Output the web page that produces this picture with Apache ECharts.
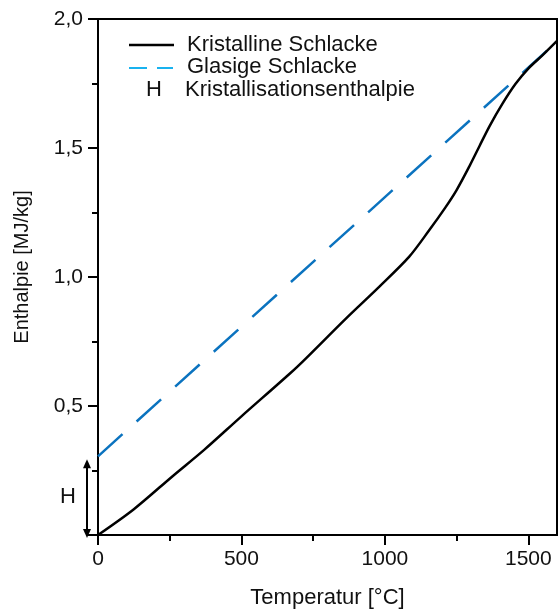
<!DOCTYPE html>
<html>
<head>
<meta charset="utf-8">
<title>Enthalpie</title>
<script src="https://cdn.jsdelivr.net/npm/echarts@6/dist/echarts.min.js"></script>
<style>
  html, body { margin: 0; padding: 0; background: #fff; }
  #chart { width: 558px; height: 614px; }
</style>
</head>
<body>
<div id="chart"></div>
<script>
// Werte
const kristallinT = [0, 125, 260, 370, 500, 670, 725, 865, 980, 1085, 1155, 1210, 1250, 1295, 1330, 1365, 1410, 1455, 1500, 1550, 1600];
const kristallinH = [0, 0.1, 0.228, 0.33, 0.46, 0.627, 0.685, 0.84, 0.962, 1.079, 1.182, 1.268, 1.337, 1.43, 1.508, 1.585, 1.672, 1.748, 1.808, 1.86, 1.915];
const glasigT = [0, 1600];
const glasigH = [0.305, 1.912];
const xTicks = [0, 500, 1000, 1500];
const xMinorTicks = [250, 750, 1250];
const yLabels = [0.5, 1, 1.5, 2];

const FONT = 'Liberation Sans, Arial, sans-serif';

let chart = echarts.init(document.getElementById('chart'));

// Kristallisationsenthalpie: Abstand der beiden Kurven bei T = 0
const hDelta = [[glasigT[0], kristallinH[0], glasigH[0]]];

chart.setOption({
    animation: false,
    grid: {
        left: 98, right: 1, top: 19, bottom: 79,
        show: true, borderColor: '#000', borderWidth: 2
    },
    xAxis: [
        {
            type: 'value', min: 0, max: 1600, interval: 500,
            name: 'Temperatur [°C]', nameLocation: 'middle', nameGap: 52,
            nameTextStyle: {fontFamily: FONT, fontSize: 22, color: '#111'},
            axisLine: {lineStyle: {color: '#000', width: 2}},
            axisTick: {show: true, length: 10, lineStyle: {color: '#000', width: 2}, customValues: xTicks},
            axisLabel: {fontFamily: FONT, fontSize: 21, color: '#111', margin: 14, customValues: xTicks, formatter: v => String(v)},
            splitLine: {show: false}
        },
        {
            // nur Zwischenstriche
            type: 'value', min: 0, max: 1600, position: 'bottom',
            axisLine: {show: false},
            axisTick: {show: true, length: 6, lineStyle: {color: '#000', width: 2}, customValues: xMinorTicks},
            axisLabel: {show: false},
            splitLine: {show: false}
        }
    ],
    yAxis: {
        type: 'value', min: 0, max: 2, interval: 0.5,
        name: 'Enthalpie [MJ/kg]', nameLocation: 'middle', nameGap: 66,
        nameTextStyle: {fontFamily: FONT, fontSize: 20, color: '#111', padding: [0, 0, 0, 20]},
        axisLine: {lineStyle: {color: '#000', width: 2}},
        axisTick: {length: 10, lineStyle: {color: '#000', width: 2}},
        minorTick: {show: true, splitNumber: 2, length: 6, lineStyle: {color: '#000', width: 2}},
        axisLabel: {
            fontFamily: FONT, fontSize: 21, color: '#111', margin: 15,
            customValues: yLabels,
            formatter: v => v.toFixed(1).replace('.', ',')
        },
        splitLine: {show: false}
    },
    graphic: [
        {type: 'line', shape: {x1: 129, y1: 45, x2: 174, y2: 45}, style: {stroke: '#000', lineWidth: 2.5}},
        {type: 'text', left: 187, top: 34, style: {text: 'Kristalline Schlacke', font: '22px ' + FONT, fill: '#111'}},
        {type: 'line', shape: {x1: 129, y1: 68, x2: 147, y2: 68}, style: {stroke: '#19b2ef', lineWidth: 2}},
        {type: 'line', shape: {x1: 157, y1: 68, x2: 173, y2: 68}, style: {stroke: '#19b2ef', lineWidth: 2}},
        {type: 'text', left: 187, top: 56, style: {text: 'Glasige Schlacke', font: '22px ' + FONT, fill: '#111'}},
        {type: 'text', left: 146, top: 79, style: {text: 'H', font: '22px ' + FONT, fill: '#111'}},
        {type: 'text', left: 185, top: 79, style: {text: 'Kristallisationsenthalpie', font: '22px ' + FONT, fill: '#111'}}
    ],
    series: [
        {
            name: 'Glasige Schlacke',
            type: 'line',
            data: glasigT.map((t, i) => [t, glasigH[i]]),
            showSymbol: false,
            lineStyle: {color: '#0b73bf', width: 2.5, type: [33, 19]},
            z: 3
        },
        {
            name: 'Kristalline Schlacke',
            type: 'line',
            data: kristallinT.map((t, i) => [t, kristallinH[i]]),
            showSymbol: false,
            smooth: 0.3,
            lineStyle: {color: '#000', width: 2.5},
            z: 4
        },
        {
            name: 'Kristallisationsenthalpie',
            type: 'custom',
            clip: false,
            silent: true,
            data: hDelta,
            renderItem: function (params, api) {
                let top = api.coord([api.value(0), api.value(2)]);
                let bot = api.coord([api.value(0), api.value(1)]);
                let x = bot[0] - 11;
                let y1 = top[1] + 3;
                let y2 = bot[1] + 3;
                return {
                    type: 'group',
                    children: [
                        {type: 'line', shape: {x1: x, y1: y1 + 6, x2: x, y2: y2 - 6}, style: {stroke: '#000', lineWidth: 2}},
                        {type: 'polygon', shape: {points: [[x, y1], [x - 4, y1 + 9], [x + 4, y1 + 9]]}, style: {fill: '#000'}},
                        {type: 'polygon', shape: {points: [[x, y2], [x - 4, y2 - 9], [x + 4, y2 - 9]]}, style: {fill: '#000'}},
                        {type: 'text', x: x - 19, y: (y1 + y2) / 2 - 2, style: {text: 'H', font: '22px ' + FONT, fill: '#111', align: 'center', verticalAlign: 'middle'}}
                    ]
                };
            }
        }
    ]
});
</script>
</body>
</html>
